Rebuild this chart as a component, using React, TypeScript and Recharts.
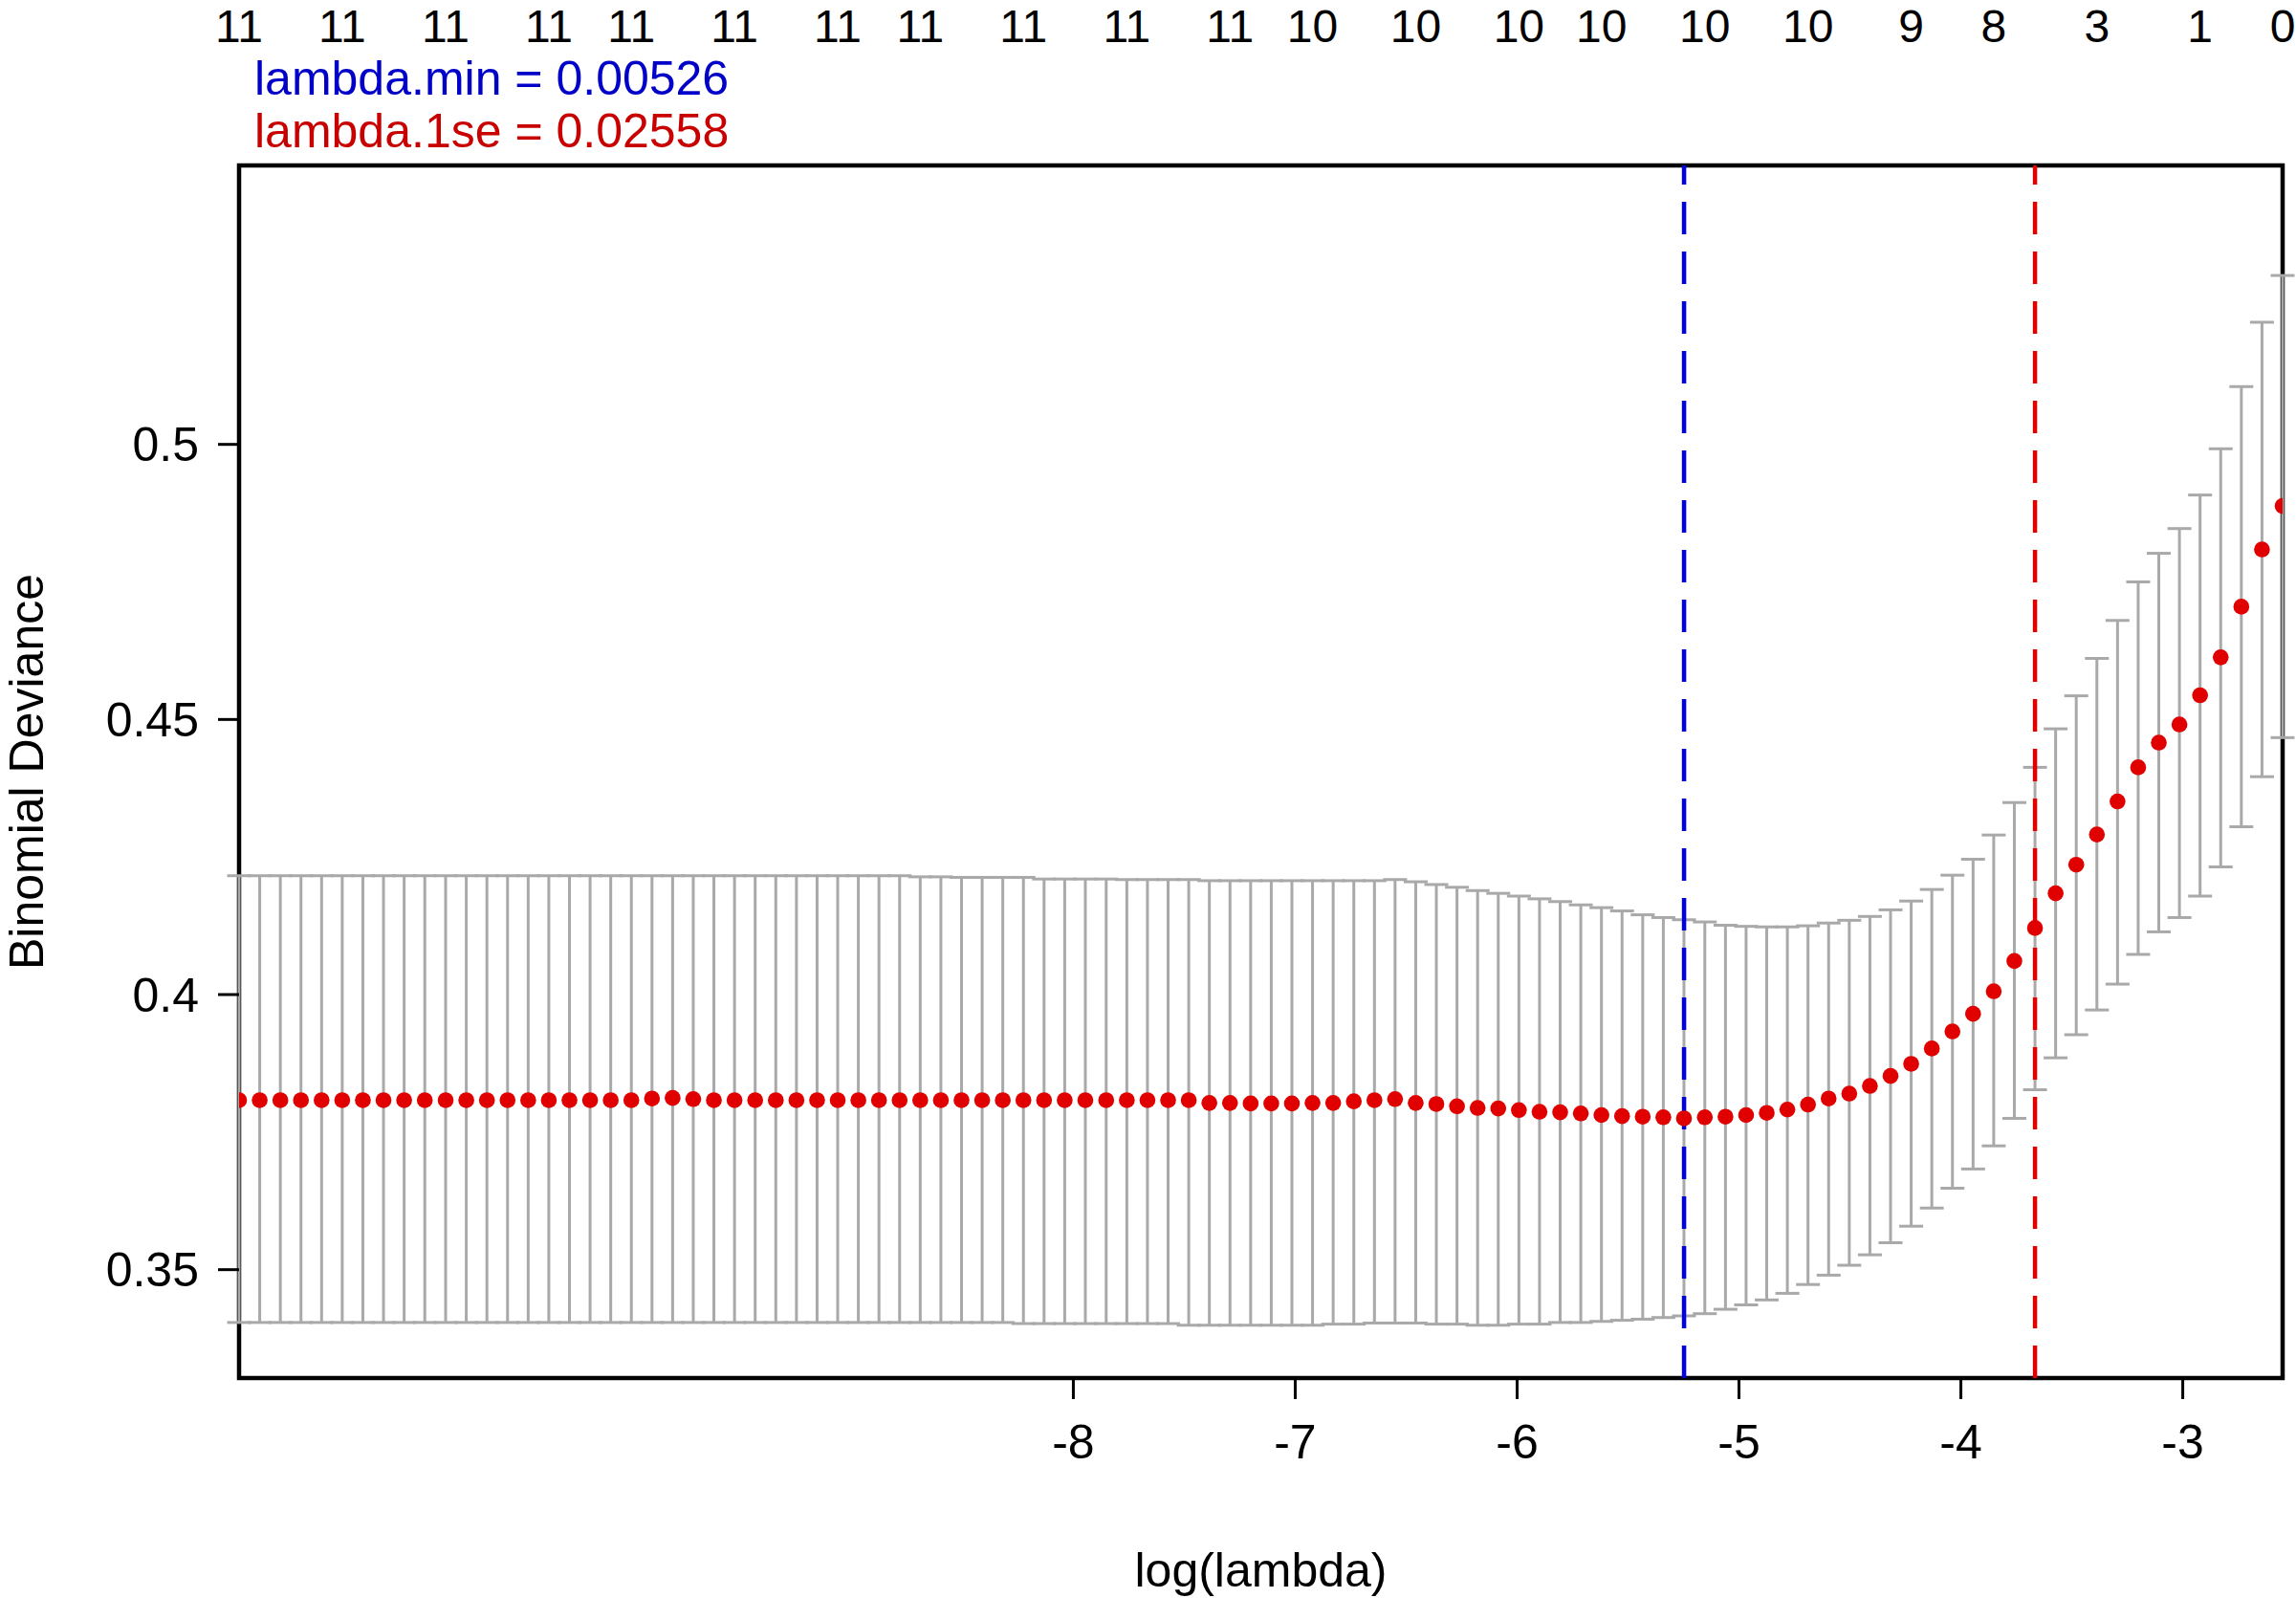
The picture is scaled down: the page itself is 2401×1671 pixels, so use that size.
import React from 'react';
import {
  ScatterChart, Scatter, XAxis, YAxis, ErrorBar, ReferenceLine, ReferenceArea, Label,
} from 'recharts';

const FONT = '"Liberation Sans", Arial, Helvetica, sans-serif';

// log(lambda) for the 100 fits, left to right
const logLambda = [
  -11.760, -11.667, -11.574, -11.481, -11.388, -11.295, -11.202, -11.109, -11.016, -10.923,
  -10.829, -10.736, -10.643, -10.550, -10.457, -10.364, -10.271, -10.178, -10.085, -9.992,
  -9.899, -9.806, -9.713, -9.620, -9.527, -9.434, -9.341, -9.248, -9.155, -9.062,
  -8.969, -8.876, -8.783, -8.690, -8.597, -8.504, -8.411, -8.318, -8.225, -8.132,
  -8.039, -7.946, -7.852, -7.759, -7.666, -7.573, -7.480, -7.387, -7.294, -7.201,
  -7.108, -7.015, -6.922, -6.829, -6.736, -6.643, -6.550, -6.457, -6.364, -6.271,
  -6.178, -6.085, -5.992, -5.899, -5.806, -5.713, -5.620, -5.527, -5.434, -5.341,
  -5.248, -5.154, -5.061, -4.968, -4.875, -4.782, -4.689, -4.596, -4.503, -4.410,
  -4.317, -4.224, -4.131, -4.038, -3.945, -3.852, -3.759, -3.666, -3.573, -3.480,
  -3.387, -3.294, -3.201, -3.108, -3.015, -2.922, -2.829, -2.736, -2.643, -2.550,
];

// mean cross-validated binomial deviance
const cvm = [
  0.3808, 0.3808, 0.3808, 0.3808, 0.3808, 0.3808, 0.3808, 0.3808, 0.3808, 0.3808,
  0.3808, 0.3808, 0.3808, 0.3808, 0.3808, 0.3808, 0.3808, 0.3808, 0.3808, 0.3808,
  0.3811, 0.3812, 0.3810, 0.3808, 0.3808, 0.3808, 0.3808, 0.3808, 0.3808, 0.3808,
  0.3808, 0.3808, 0.3808, 0.3808, 0.3808, 0.3808, 0.3808, 0.3808, 0.3808, 0.3808,
  0.3808, 0.3808, 0.3808, 0.3808, 0.3808, 0.3808, 0.3808, 0.3803, 0.3803, 0.3802,
  0.3802, 0.3802, 0.3803, 0.3803, 0.3806, 0.3808, 0.3810, 0.3803, 0.3801, 0.3797,
  0.3794, 0.3793, 0.3790, 0.3787, 0.3786, 0.3784, 0.3781, 0.3779, 0.3778, 0.3777,
  0.3775, 0.3777, 0.3778, 0.3781, 0.3785, 0.3791, 0.3800, 0.3811, 0.3820, 0.3834,
  0.3852, 0.3874, 0.3902, 0.3933, 0.3965, 0.4006, 0.4061, 0.4121, 0.4184, 0.4236,
  0.4291, 0.4351, 0.4413, 0.4458, 0.4491, 0.4544, 0.4613, 0.4705, 0.4809, 0.4888,
];

// upper and lower ends of the error bars
const cvup = [
  0.4216, 0.4216, 0.4216, 0.4216, 0.4216, 0.4216, 0.4216, 0.4216, 0.4216, 0.4216,
  0.4216, 0.4216, 0.4216, 0.4216, 0.4216, 0.4216, 0.4216, 0.4216, 0.4216, 0.4216,
  0.4216, 0.4216, 0.4216, 0.4216, 0.4216, 0.4216, 0.4216, 0.4216, 0.4216, 0.4216,
  0.4216, 0.4216, 0.4216, 0.4214, 0.4214, 0.4213, 0.4213, 0.4213, 0.4213, 0.4210,
  0.4210, 0.4210, 0.4210, 0.4209, 0.4209, 0.4209, 0.4209, 0.4207, 0.4207, 0.4207,
  0.4207, 0.4207, 0.4207, 0.4207, 0.4207, 0.4207, 0.4209, 0.4205, 0.4200, 0.4195,
  0.4189, 0.4184, 0.4179, 0.4174, 0.4169, 0.4163, 0.4158, 0.4152, 0.4145, 0.4140,
  0.4136, 0.4132, 0.4126, 0.4124, 0.4123, 0.4123, 0.4125, 0.4130, 0.4135, 0.4142,
  0.4154, 0.4170, 0.4191, 0.4217, 0.4246, 0.4290, 0.4349, 0.4413, 0.4483, 0.4543,
  0.4611, 0.4680, 0.4750, 0.4802, 0.4847, 0.4908, 0.4992, 0.5105, 0.5222, 0.5307,
];

const cvlo = [
  0.3404, 0.3404, 0.3404, 0.3404, 0.3404, 0.3404, 0.3404, 0.3404, 0.3404, 0.3404,
  0.3404, 0.3404, 0.3404, 0.3404, 0.3404, 0.3404, 0.3404, 0.3404, 0.3404, 0.3404,
  0.3404, 0.3404, 0.3404, 0.3404, 0.3404, 0.3404, 0.3404, 0.3404, 0.3404, 0.3404,
  0.3404, 0.3404, 0.3404, 0.3404, 0.3404, 0.3404, 0.3404, 0.3404, 0.3402, 0.3402,
  0.3402, 0.3402, 0.3402, 0.3402, 0.3402, 0.3402, 0.3399, 0.3399, 0.3399, 0.3399,
  0.3399, 0.3399, 0.3399, 0.3401, 0.3401, 0.3403, 0.3403, 0.3403, 0.3401, 0.3401,
  0.3399, 0.3399, 0.3401, 0.3401, 0.3404, 0.3404, 0.3406, 0.3408, 0.3410, 0.3413,
  0.3416, 0.3420, 0.3428, 0.3436, 0.3445, 0.3457, 0.3473, 0.3490, 0.3508, 0.3527,
  0.3549, 0.3579, 0.3612, 0.3648, 0.3683, 0.3725, 0.3775, 0.3827, 0.3885, 0.3927,
  0.3972, 0.4019, 0.4073, 0.4114, 0.4140, 0.4179, 0.4232, 0.4305, 0.4396, 0.4467,
];

// number of non-zero coefficients shown along the top
const topTickLogLambda = [
  -11.760, -11.295, -10.829, -10.364, -9.992, -9.527, -9.062, -8.690, -8.225, -7.759, -7.294,
  -6.922, -6.457, -5.992, -5.620, -5.154, -4.689, -4.224, -3.852, -3.387, -2.922, -2.550,
];
const topTickNzero = [11, 11, 11, 11, 11, 11, 11, 11, 11, 11, 11, 10, 10, 10, 10, 10, 10, 9, 8, 3, 1, 0];

const xTicks = [-8, -7, -6, -5, -4, -3];
const yTicks = [0.35, 0.4, 0.45, 0.5];
const yDomain = [0.3303, 0.5507];

const lambdaMin = 0.00526;
const lambda1se = 0.02558;

const xDomain = [logLambda[0], logLambda[logLambda.length - 1]];

const rows = logLambda.map((x, i) => ({
  logLambda: x,
  mean: cvm[i],
  err: [cvm[i] - cvlo[i], cvup[i] - cvm[i]],
}));

const RedDot = (p: any) => <circle cx={p.cx} cy={p.cy} r={8.3} fill="#E00000" />;

const LambdaNotes = (props: any) => {
  const vb = props.viewBox || { x: 250, y: 0 };
  return (
    <g>
      <text x={vb.x + 16} y={vb.y + 99} fontSize={50} fontFamily={FONT} fill="#0000C8">
        {`lambda.min = ${lambdaMin}`}
      </text>
      <text x={vb.x + 16} y={vb.y + 154} fontSize={50} fontFamily={FONT} fill="#C80000">
        {`lambda.1se = ${lambda1se}`}
      </text>
    </g>
  );
};

const YTitle = (props: any) => {
  const vb = props.viewBox || { x: 0, y: 173, height: 1268 };
  const cx = vb.x + 45;
  const cy = vb.y + vb.height / 2;
  return (
    <text x={cx} y={cy} transform={`rotate(-90, ${cx}, ${cy})`} textAnchor="middle"
      fontSize={50} fontFamily={FONT} fill="#000">
      Binomial Deviance
    </text>
  );
};

const tickStyle = { fill: '#000', fontSize: 50, fontFamily: FONT };
const topTickStyle = { fill: '#000', fontSize: 48, fontFamily: FONT };

function App() {
  return (
    <div style={{ position: 'fixed', left: 0, top: 0, width: 2401, height: 1671, background: '#fff', fontFamily: FONT }}>
      <ScatterChart width={2401} height={1671} margin={{ top: 0, right: 14, bottom: 0, left: 0 }}>
        <XAxis xAxisId="bottom" type="number" dataKey="logLambda" domain={xDomain} allowDataOverflow
          ticks={xTicks} interval={0} height={230} tickSize={22} tickMargin={26}
          axisLine={false} tickLine={{ stroke: '#000', strokeWidth: 3 }} tick={tickStyle}
          tickFormatter={(v: number) => String(v)}>
          <Label value="log(lambda)" position="insideBottom" offset={12} fill="#000" fontSize={50} fontFamily={FONT} />
        </XAxis>
        <XAxis xAxisId="top" orientation="top" type="number" dataKey="logLambda" domain={xDomain} allowDataOverflow
          ticks={topTickLogLambda} interval={0} height={173} tickSize={0} tickMargin={129}
          axisLine={false} tickLine={false} tick={topTickStyle}
          tickFormatter={(v: number) => String(topTickNzero[topTickLogLambda.indexOf(v)])}>
          <Label content={LambdaNotes} />
        </XAxis>
        <YAxis type="number" dataKey="mean" domain={yDomain} allowDataOverflow ticks={yTicks} interval={0}
          width={250} tickSize={22} tickMargin={20} axisLine={false}
          tickLine={{ stroke: '#000', strokeWidth: 3 }} tick={tickStyle}
          tickFormatter={(v: number) => String(v)}>
          <Label content={YTitle} />
        </YAxis>
        <ReferenceArea xAxisId="bottom" x1={xDomain[0]} x2={xDomain[1]} y1={yDomain[0]} y2={yDomain[1]}
          fill="none" fillOpacity={0} stroke="#000" strokeWidth={4.5} ifOverflow="visible" />
        <Scatter xAxisId="bottom" data={rows} isAnimationActive={false} shape={RedDot}>
          <ErrorBar dataKey="err" direction="y" width={12.5} stroke="#A9A9A9" strokeWidth={3} isAnimationActive={false} />
        </Scatter>
        <ReferenceLine xAxisId="bottom" x={Math.log(lambdaMin)} stroke="#0000E6" strokeWidth={4.5} strokeDasharray="34 18" />
        <ReferenceLine xAxisId="bottom" x={Math.log(lambda1se)} stroke="#E00000" strokeWidth={4.5} strokeDasharray="34 18" />
      </ScatterChart>
    </div>
  );
}

export default App;
